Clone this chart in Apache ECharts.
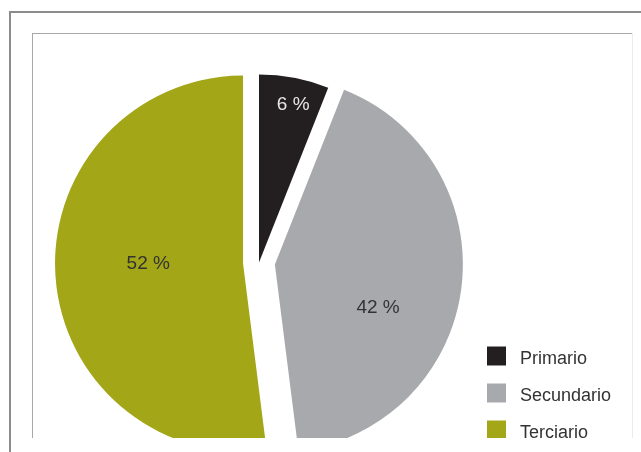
<!DOCTYPE html>
<html>
<head>
<meta charset="utf-8">
<script src="https://cdn.jsdelivr.net/npm/echarts@6/dist/echarts.min.js"></script>
<style>
  html, body { margin: 0; padding: 0; background: #fff; width: 641px; height: 452px; overflow: hidden; }
  .frame-top { position: absolute; left: 10px; top: 11px; width: 631px; height: 2px; background: #8c8c8c; }
  .frame-left { position: absolute; left: 9px; top: 11px; width: 2px; height: 441px; background: #8c8c8c; }
  .panel-top { position: absolute; left: 32px; top: 33px; width: 600px; height: 1px; background: #a8a8a8; }
  .panel-left { position: absolute; left: 32px; top: 33px; width: 1px; height: 405px; background: #a8a8a8; }
  .panel-right { position: absolute; left: 632px; top: 33px; width: 1px; height: 405px; background: #ececec; }
  /* the panel cuts the drawing off at its lower edge */
  #clip { position: absolute; left: 33px; top: 34px; width: 599px; height: 404px; overflow: hidden; }
  #chart { position: absolute; left: 0; top: 0; width: 599px; height: 470px; }
</style>
</head>
<body>
<div class="frame-top"></div>
<div class="frame-left"></div>
<div class="panel-top"></div>
<div class="panel-left"></div>
<div class="panel-right"></div>
<div id="clip"><div id="chart"></div></div>
<script>
// Sector shares of employment (%)
const categories = ['Primario', 'Secundario', 'Terciario'];
const values = [6, 42, 52];
const exploded = [false, true, true];

const sliceColors = ['#231f20', '#a7a9ac', '#a2a617'];
const labelColors = ['#e6e6e6', '#333333', '#333333'];
// nudges applied to each value label from its default inside spot
const labelShift = [[16, -62], [7, 31], [2, -6]];

const chart = echarts.init(document.getElementById('chart'), null, { renderer: 'canvas' });

chart.setOption({
  animation: false,
  backgroundColor: '#ffffff',
  legend: {
    orient: 'vertical',
    left: 454,
    top: 310,
    padding: 0,
    itemWidth: 19,
    itemHeight: 19,
    itemGap: 13,
    icon: 'rect',
    selectedMode: false,
    data: categories,
    formatter: '{t|{name}}',
    textStyle: {
      padding: [0, 0, 0, 9],
      rich: {
        t: {
          fontFamily: 'Liberation Sans',
          fontSize: 18,
          lineHeight: 13,
          color: '#333333',
          padding: [6, 0, 0, 0]
        }
      }
    }
  },
  series: [{
    type: 'pie',
    center: [226, 228.5],
    radius: [0, 188],
    startAngle: 90,
    clockwise: true,
    selectedMode: 'multiple',
    selectedOffset: 16,
    avoidLabelOverlap: false,
    emphasis: { disabled: true },
    itemStyle: { borderWidth: 0 },
    label: {
      show: true,
      position: 'inside',
      formatter: '{c} %',
      fontFamily: 'Liberation Sans',
      fontSize: 19
    },
    labelLine: { show: false },
    labelLayout: function (p) {
      const s = labelShift[p.dataIndex];
      return { dx: s[0], dy: s[1] };
    },
    data: categories.map(function (name, i) {
      return {
        name: name,
        value: values[i],
        selected: exploded[i],
        itemStyle: { color: sliceColors[i] },
        label: { color: labelColors[i] }
      };
    })
  }]
});
</script>
</body>
</html>
